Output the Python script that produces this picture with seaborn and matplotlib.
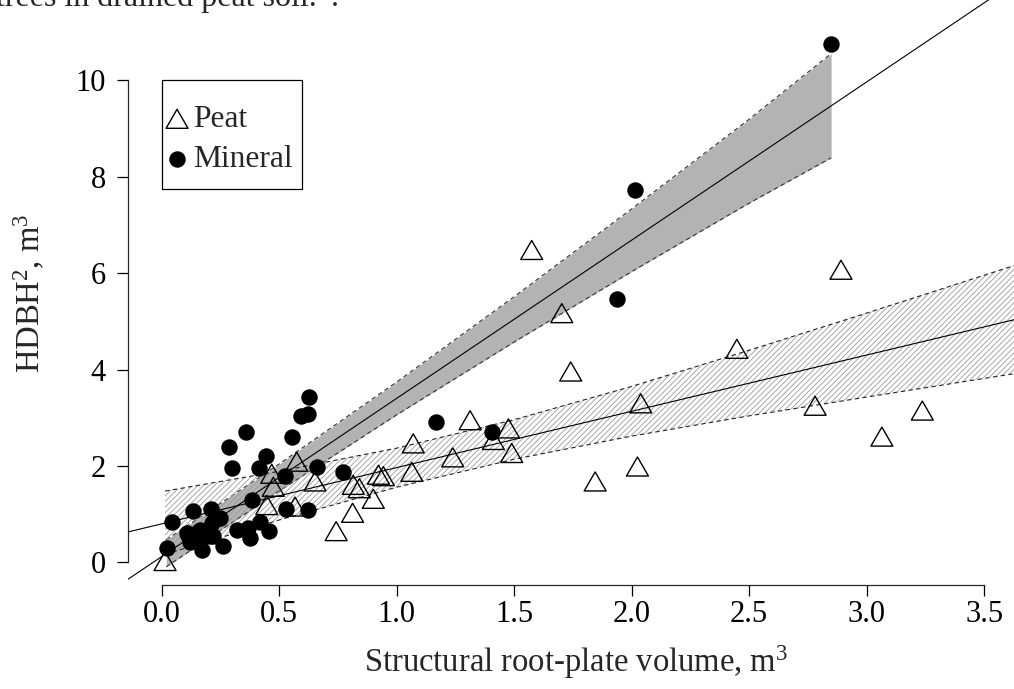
import matplotlib
matplotlib.use("Agg")
import matplotlib.pyplot as plt
from matplotlib.path import Path
from matplotlib.markers import MarkerStyle
from matplotlib.patches import Rectangle
import seaborn as sns

# Peat soil trees (open triangles)
peat_x = [0.015, 0.448, 0.469, 0.476, 0.568, 0.575, 0.653, 0.743, 0.813, 0.816,
          0.842, 0.901, 0.923, 0.944, 1.065, 1.071, 1.239, 1.313, 1.412, 1.476,
          1.490, 1.575, 1.703, 1.741, 1.845, 2.025, 2.039, 2.448, 2.781, 2.891,
          3.065, 3.237]
peat_y = [0.03, 1.19, 1.84, 1.57, 1.16, 2.09, 1.68, 0.65, 1.03, 1.61,
          1.54, 1.32, 1.82, 1.79, 1.88, 2.47, 2.18, 2.95, 2.54, 2.78,
          2.27, 6.48, 5.17, 3.96, 1.68, 1.99, 3.30, 4.43, 3.25, 6.07,
          2.61, 3.15]

# Mineral soil trees (filled circles)
min_x = [0.022, 0.046, 0.107, 0.114, 0.121, 0.135, 0.143, 0.157, 0.164, 0.171,
         0.192, 0.206, 0.209, 0.214, 0.221, 0.249, 0.263, 0.289, 0.301, 0.320,
         0.360, 0.369, 0.377, 0.386, 0.414, 0.419, 0.443, 0.459, 0.526, 0.530,
         0.557, 0.592, 0.625, 0.625, 0.629, 0.660, 0.774, 1.168, 1.405, 1.937,
         2.015, 2.849]
min_y = [0.29, 0.83, 0.61, 0.57, 0.43, 1.07, 0.47, 0.64, 0.67, 0.26,
         0.57, 0.55, 1.10, 0.81, 0.54, 0.92, 0.34, 2.39, 1.95, 0.67,
         2.71, 0.71, 0.50, 1.30, 1.95, 0.83, 2.20, 0.66, 1.79, 1.10,
         2.61, 3.04, 3.08, 1.09, 3.44, 1.97, 1.88, 2.92, 2.71, 5.46,
         7.73, 10.75]

# fitted lines (intercept, slope)
peat_a, peat_b = 0.80, 1.167
min_a, min_b = 0.12, 3.281

# confidence bands, read at a few x positions
peat_band_x = [0.015, 0.5, 1.0, 1.5, 2.0, 2.5, 3.0, 3.7]
peat_band_lo = [0.17, 0.88, 1.56, 2.14, 2.62, 3.04, 3.43, 3.97]
peat_band_hi = [1.48, 1.89, 2.37, 2.96, 3.65, 4.40, 5.17, 6.27]
min_band_x = [0.02, 0.5, 1.0, 1.5, 2.0, 2.5, 2.849]
min_band_lo = [-0.09, 1.48, 3.06, 4.57, 6.03, 7.45, 8.39]
min_band_hi = [0.47, 2.04, 3.74, 5.51, 7.33, 9.19, 10.55]

xticks = [0, 0.5, 1.0, 1.5, 2.0, 2.5, 3.0, 3.5]
xticklabels = ["0.0", "0.5", "1.0", "1.5", "2.0", "2.5", "3.0", "3.5"]
yticks = [0, 2, 4, 6, 8, 10]

caption = "trees in drained peat soil.\u201d."
xlabel = "Structural root-plate volume, m$^3$"
ylabel = "HDBH$^2$, m$^3$"

sns.set_style("ticks")
plt.rcParams["font.family"] = ["Liberation Serif", "DejaVu Serif"]
plt.rcParams["mathtext.fontset"] = "custom"
plt.rcParams["mathtext.rm"] = "Liberation Serif"
plt.rcParams["mathtext.it"] = "Liberation Serif:italic"
plt.rcParams["hatch.linewidth"] = 0.6

W, H = 1014, 689
fig = plt.figure(figsize=(W / 100, H / 100), dpi=100)
# plot region runs a little past the right and top edges of the picture (cropped page)
ax = fig.add_axes([128 / W, (H - 585) / H, 905 / W, 608 / H])
ax.set_xlim(-0.1426, 3.708)
ax.set_ylim(-0.467, 12.14)

# mineral band: solid grey with dashed edges
ax.fill_between(min_band_x, min_band_lo, min_band_hi, color="#b3b3b3", lw=0, zorder=1)
for yy in (min_band_lo, min_band_hi):
    sns.lineplot(x=min_band_x, y=yy, ax=ax, color="#333333", lw=0.8,
                 linestyle=(0, (4, 3)), zorder=2)

# peat band: hatched with dashed edges
ax.fill_between(peat_band_x, peat_band_lo, peat_band_hi, facecolor="none",
                edgecolor="#9a9a9a", hatch="//////", lw=0, zorder=2)
for yy in (peat_band_lo, peat_band_hi):
    sns.lineplot(x=peat_band_x, y=yy, ax=ax, color="#222222", lw=0.8,
                 linestyle=(0, (4, 3)), zorder=2)

# regression lines across the whole plot region
ax.axline((0, peat_a), slope=peat_b, color="black", lw=0.8, zorder=3)
ax.axline((0, min_a), slope=min_b, color="black", lw=0.8, zorder=3)

tri = MarkerStyle(Path([(-1, -0.866), (1, -0.866), (0, 0.866), (-1, -0.866)],
                       [Path.MOVETO, Path.LINETO, Path.LINETO, Path.CLOSEPOLY]))
sns.scatterplot(x=peat_x, y=peat_y, ax=ax, marker=tri, s=250, facecolor="none",
                edgecolor="black", linewidth=1.0, label="Peat", zorder=4)
sns.scatterplot(x=min_x, y=min_y, ax=ax, marker="o", s=140, color="black",
                edgecolor="black", linewidth=0, label="Mineral", zorder=5)

sns.despine(ax=ax)
ax.spines["left"].set_bounds(0, 10)
ax.spines["bottom"].set_bounds(0, 3.5)
ax.spines["left"].set_linewidth(0.9)
ax.spines["bottom"].set_linewidth(0.9)
ax.set_xticks(xticks)
ax.set_xticklabels(xticklabels)
ax.set_yticks(yticks)
ax.tick_params(axis="both", direction="out", length=8, width=0.9,
               labelsize=22, colors="black")
ax.tick_params(axis="y", pad=8)
ax.tick_params(axis="x", pad=3)

ax.set_xlabel(xlabel, fontsize=23.5)
ax.set_ylabel(ylabel, fontsize=23.5)
ax.xaxis.set_label_coords(0.495, -0.0962)
ax.yaxis.set_label_coords(-0.089, 0.48)

ax.legend(loc="upper left", bbox_to_anchor=(166 / W, 1 - 105 / H),
          bbox_transform=fig.transFigure, borderaxespad=0, borderpad=0,
          fontsize=22.7, frameon=False, handlelength=0.7,
          handletextpad=0.15, labelspacing=0.35)
fig.add_artist(Rectangle((162 / W, 1 - 189 / H), 140 / W, 109 / H,
                         transform=fig.transFigure, fill=False, lw=0.9,
                         ec="black"))

fig.text(-0.004, 1 - 6 / H, caption, fontsize=23, va="baseline", ha="left")

fig.savefig("out.png", dpi=100)
